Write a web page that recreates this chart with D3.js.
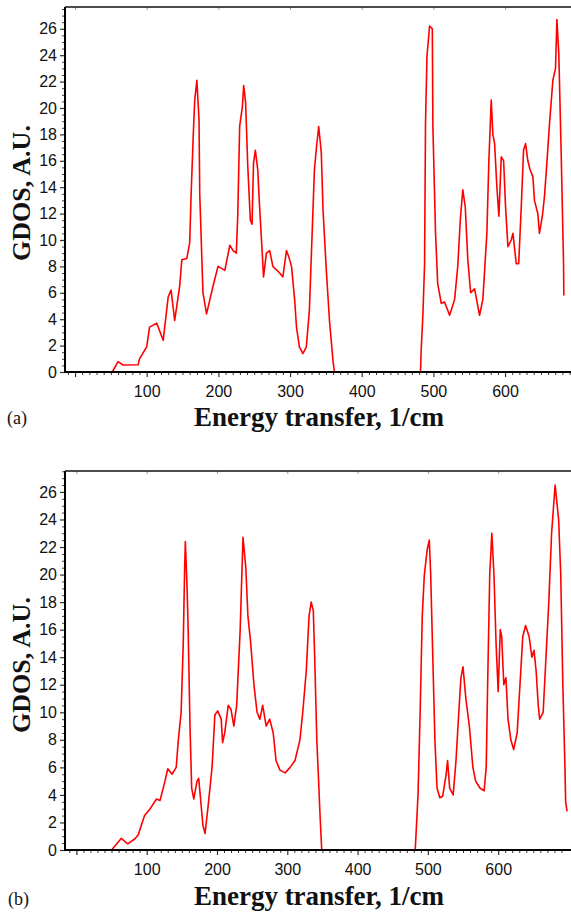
<!DOCTYPE html>
<html>
<head>
<meta charset="utf-8">
<script src="https://cdn.jsdelivr.net/npm/d3@7"></script>
<style>
html,body{margin:0;padding:0;background:#fff;}
svg{display:block;}
</style>
</head>
<body>
<svg id="chart" width="571" height="915"></svg>
<script>
// ---------- DATA ----------
const energyA = [52,60,67,88,90,100,104,114,123,130,134,139,146,149,156,160,162,165,167,170,173,174,178.5,183.5,192.5,199.5,209,216,220.5,225,227,229.7,233.5,235.3,238,241,244.6,247,249,251.6,255,257,261,263,267,271.6,276,285.5,290,295,298.4,302,306.4,309,313,318,322.7,327,332,334,337,340,343.6,346,350.6,355,360,362,
  482,483,485.4,487.7,489,491,494.7,498.5,499.3,503,506,511,515.6,522.6,529.6,534,537.5,541,544.5,548,552,557.5,564.4,569,574.6,577.4,580.7,583,585.4,588.6,591.4,594.7,598,600.7,604,608.6,611,615.6,619,622.6,625.8,628.6,631.8,635,638.8,641,645.7,648,652,655,658.3,662,666.7,670.4,672.3,675,678.4,681.6,682];
const gdosA = [0,0.78,0.53,0.55,1.0,1.9,3.4,3.7,2.4,5.7,6.2,3.9,6.5,8.5,8.6,9.8,13.5,18,20.6,22.1,19.1,13.5,6,4.4,6.5,8.0,7.7,9.6,9.2,9.0,11.8,18.6,20.1,21.7,20.4,15.6,11.5,11.2,15.8,16.8,15.3,13,9.2,7.2,9,9.2,8.0,7.5,7.2,9.2,8.7,8.0,5.5,3.4,1.9,1.4,1.9,4.7,12.3,15.3,17.1,18.6,16.6,12.3,7.7,3.9,0.8,0,
  0,1.7,4.4,8.2,18.8,23.9,26.2,26.0,18.6,10.5,6.7,5.2,5.3,4.3,5.5,8.0,11.5,13.8,12.5,8.5,6.0,6.3,4.3,5.5,10.5,16,20.6,18,17.3,14,11.8,16.3,16,12.5,9.5,10,10.5,8.2,8.2,12.5,16.8,17.3,16,15.3,14.8,13,12,10.5,11.8,13.3,15.8,18.8,22.1,23,26.7,24.1,16.3,8.2,5.8];

const energyB = [50,64,73,83,88,94,97,105,114,119,126,130,136,142,145,149,152,154,155,157.5,159,161.6,164,167,171.5,174,177,180,183,187,193,197,201,206,208,211,216,220,224,228,233,237,241,244,248,252.6,257,261,265,270,275,280,284,289.6,297,304,311,318,322,327,331,334,337,339,342,345,346.6,349,
  482,486,489,492,495,499,502,504,507,510,513,517,521,526,528,531,536,540,544,547,550,554,559,564,568,574,580,583,585,588,591,594,597,600,603,605,608,611,614,618,622,627,631,635,639,644,648,651,654,657,659,664,668,672,676,681,684,686,689,692,695,696,698];
const gdosB = [0,0.85,0.45,0.8,1.1,2.05,2.5,3.0,3.7,3.6,5.0,5.9,5.5,6.0,8,10,15,20.5,22.4,19,16,9,4.5,3.7,5,5.2,3.5,1.8,1.2,3,6,9.8,10.1,9.5,7.8,8.5,10.5,10.2,9.0,10.5,16,22.7,20.5,17,15,12,10,9.5,10.5,9,9.5,8.5,6.5,5.8,5.6,6,6.5,8.0,10,13,17,18,17.4,14,8,4.5,2.5,0,
  0,4,10,17,20,21.8,22.5,20,14,8,4.5,3.8,3.9,5.5,6.5,4.5,4.0,6.5,10,12.5,13.3,11,9,6,5.0,4.5,4.3,6,12,20,23,20,15,11.5,16,15.5,12,12.5,9.5,8,7.3,8.5,12,15.5,16.3,15.5,14,14.5,13,10.5,9.5,10,14,18,23,26.5,25,24,20,12,6,3.5,2.8];

const xMajorTicks = [0,100,200,300,400,500,600];
const xTickLabels = ["","100","200","300","400","500","600"];
const yMajorTicks = [0,2,4,6,8,10,12,14,16,18,20,22,24,26];
const yLabel = "GDOS, A.U.";
const xLabel = "Energy transfer, 1/cm";
const panelTags = ["(a)","(b)"];

// ---------- DRAW ----------
const svg = d3.select("#chart");
const sansFont = "'Liberation Sans', Arial, sans-serif";
const serifFont = "'Liberation Serif', 'Times New Roman', serif";

function drawPanel(cfg) {
  const g = svg.append("g");
  const x = d3.scaleLinear().domain(cfg.xDomain).range([cfg.left, cfg.right]);
  const y = d3.scaleLinear().domain(cfg.yDomain).range([cfg.bottom, cfg.top]);

  // curve
  const pts = cfg.ex.map((e, i) => [e, cfg.gy[i]]);
  const line = d3.line().x(d => x(d[0])).y(d => y(d[1])).curve(d3.curveLinear);
  g.append("path").datum(pts)
    .attr("d", line)
    .attr("fill", "none")
    .attr("stroke", "#ff0000")
    .attr("stroke-width", 1.6)
    .attr("stroke-linejoin", "round");

  // x minor ticks
  const xMinor = d3.range(-10, cfg.xDomain[1], 10).filter(v => v % 100 !== 0);
  g.append("g").attr("transform", `translate(0,${cfg.bottom})`)
    .call(d3.axisBottom(x).tickValues(xMinor).tickSize(3).tickFormat(""))
    .call(a => a.select(".domain").remove())
    .call(a => a.selectAll("line").attr("stroke", "#333").attr("stroke-width", 1));
  // x major ticks
  const xa = g.append("g").attr("transform", `translate(0,${cfg.bottom})`)
    .call(d3.axisBottom(x).tickValues(xMajorTicks).tickSize(5).tickPadding(9)
      .tickFormat((d, i) => xTickLabels[i]))
    .call(a => a.select(".domain").remove());
  xa.selectAll("line").attr("stroke", "#333").attr("stroke-width", 1.2);
  xa.selectAll("text").attr("font-family", sansFont).attr("font-size", 16).attr("fill", "#111");

  // top ticks
  g.append("g").attr("transform", `translate(0,${cfg.top})`)
    .call(d3.axisTop(x).tickValues(xMajorTicks).tickSize(-3).tickFormat(""))
    .call(a => a.select(".domain").remove())
    .call(a => a.selectAll("line").attr("stroke", "#999"));

  // y minor ticks
  const yMinor = d3.range(0.5, cfg.yDomain[1], 0.5).filter(v => v % 2 !== 0);
  g.append("g").attr("transform", `translate(${cfg.left},0)`)
    .call(d3.axisLeft(y).tickValues(yMinor).tickSize(3).tickFormat(""))
    .call(a => a.select(".domain").remove())
    .call(a => a.selectAll("line").attr("stroke", "#444"));
  const ya = g.append("g").attr("transform", `translate(${cfg.left},0)`)
    .call(d3.axisLeft(y).tickValues(yMajorTicks).tickSize(5).tickPadding(3))
    .call(a => a.select(".domain").remove());
  ya.selectAll("line").attr("stroke", "#333").attr("stroke-width", 1.2);
  ya.selectAll("text").attr("font-family", sansFont).attr("font-size", 16).attr("fill", "#111");

  // frame lines
  g.append("line").attr("x1", cfg.left).attr("x2", cfg.right).attr("y1", cfg.bottom).attr("y2", cfg.bottom)
    .attr("stroke", "#000").attr("stroke-width", 2.2);
  g.append("line").attr("x1", cfg.left).attr("x2", cfg.left).attr("y1", cfg.top).attr("y2", cfg.bottom + 1)
    .attr("stroke", "#000").attr("stroke-width", 2);
  g.append("line").attr("x1", cfg.left).attr("x2", cfg.right).attr("y1", cfg.top).attr("y2", cfg.top)
    .attr("stroke", "#111").attr("stroke-width", 1.6);

  // labels
  g.append("text").text(xLabel)
    .attr("x", 319).attr("y", cfg.xLabelY)
    .attr("text-anchor", "middle").attr("font-family", serifFont)
    .attr("font-weight", "bold").attr("font-size", 27).attr("fill", "#111");
  g.append("text").text(yLabel)
    .attr("transform", `translate(30,${cfg.yLabelCenter}) rotate(-90)`)
    .attr("text-anchor", "middle").attr("font-family", serifFont)
    .attr("font-weight", "bold").attr("font-size", 26).attr("fill", "#111");
  g.append("text").text(cfg.tag)
    .attr("x", cfg.tagX).attr("y", cfg.tagY)
    .attr("font-family", serifFont).attr("font-size", 18).attr("fill", "#111");
}

drawPanel({
  ex: energyA, gy: gdosA,
  left: 65, right: 571, top: 7, bottom: 372,
  xDomain: [-14, 692], yDomain: [0, 27.65],
  xLabelY: 426, yLabelCenter: 193, tag: panelTags[0], tagX: 7, tagY: 424
});
drawPanel({
  ex: energyB, gy: gdosB,
  left: 65, right: 571, top: 471, bottom: 850,
  xDomain: [-16.2, 703.6], yDomain: [0, 27.52],
  xLabelY: 905, yLabelCenter: 665, tag: panelTags[1], tagX: 8, tagY: 905
});
</script>
</body>
</html>
